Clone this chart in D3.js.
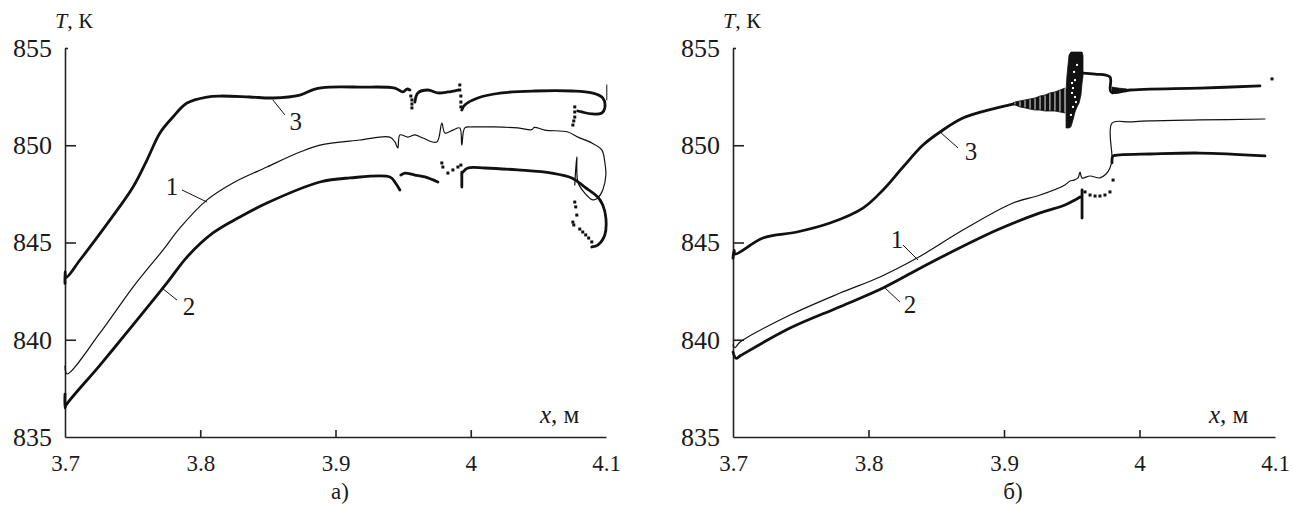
<!DOCTYPE html>
<html>
<head>
<meta charset="utf-8">
<script src="https://cdn.jsdelivr.net/npm/d3@7/dist/d3.min.js"></script>
<style>
  body { margin: 0; background: #fff; }
  svg { display: block; }
</style>
</head>
<body>
<svg id="chart" width="1294" height="515"></svg>
<script>
const xTicks = [3.7, 3.8, 3.9, 4, 4.1]
const yTicks = [835, 840, 845, 850, 855]

// panel а) -- [x, T], null = break in the curve
const a1 = [[3.7, 838.65], [3.7015, 838.24], [3.7259, 840.35], [3.7503, 842.71], [3.7724, 844.61], [3.785, 845.75],
    [3.805, 847.19], [3.8242, 848.06], [3.8493, 848.88], [3.8737, 849.65], [3.8885, 850.01], [3.918, 850.27],
    [3.9402, 850.42], [3.9439, 850.17], [3.9461, 849.86], [3.9476, 850.53], [3.9535, 850.42], [3.9587, 850.53],
    [3.9646, 850.37], [3.9749, 850.17], [3.9786, 851.14], [3.9809, 850.63], [3.9868, 850.78], [3.9919, 850.89],
    [3.9934, 850.01], [3.9956, 850.89], [4.0008, 850.94], [4.0348, 850.89], [4.045, 850.8], [4.047, 850.92],
    [4.0548, 850.78], [4.0718, 850.68], [4.0792, 850.42], [4.0895, 850.12], [4.0969, 849.76], [4.0991, 849.14],
    [4.0999, 848.47], [4.0976, 847.70], [4.0939, 847.29], [4.0902, 847.19], [4.0843, 847.54], [4.0792, 848.11],
    [4.0784, 849.40], [4.0769, 847.96]]
const a2 = [[3.7, 837.2], [3.7, 836.5], [3.7008, 836.64], [3.7259, 838.70], [3.7503, 840.76], [3.7754, 842.92],
    [3.7902, 844.25], [3.8094, 845.49], [3.8293, 846.31], [3.8493, 847.03], [3.8885, 848.11], [3.9106, 848.32],
    [3.9402, 848.37], [3.9439, 848.11], [3.9476, 847.70], null,
    [3.9483, 848.47], [3.9513, 848.57], [3.9587, 848.47], [3.9661, 848.37], [3.9757, 848.11], null,
    [3.9934, 848.62], [3.9934, 847.85], null,
    [3.9942, 848.62], [3.9979, 848.83], [4.0104, 848.83], [4.0348, 848.73], [4.0599, 848.57], [4.0747, 848.32],
    [4.0843, 847.85], [4.0939, 847.34], [4.0976, 846.93], [4.0999, 846.26], [4.0991, 845.39], [4.0939, 844.87],
    [4.0895, 844.77]]
const a2dots = [[3.9786, 849.09], [3.9794, 848.88], [3.9831, 848.57], [3.9868, 848.73], [3.9905, 848.88],
    [3.9927, 848.98], [4.0769, 847.08], [4.0776, 846.83], [4.0784, 846.41], [4.0755, 846.05], [4.0762, 845.90],
    [4.0806, 845.69], [4.0828, 845.54], [4.085, 845.39], [4.0872, 845.23], [4.0895, 845.03]]
const a3 = [[3.7, 842.9], [3.7, 843.5], [3.7008, 843.2], [3.7111, 844.10], [3.7333, 846.16], [3.7503, 847.85],
    [3.7606, 849.24], [3.7702, 850.63], [3.7798, 851.45], [3.7902, 852.17], [3.805, 852.48], [3.8146, 852.53],
    [3.8367, 852.48], [3.8537, 852.43], [3.8737, 852.58], [3.8848, 852.89], [3.8959, 852.99], [3.918, 852.99],
    [3.9439, 852.94], [3.9498, 852.74], [3.9528, 852.89], [3.955, 852.84], null,
    [3.9587, 852.22], [3.9609, 852.69], [3.9683, 852.84], [3.9757, 852.69], [3.9831, 852.74], [3.9905, 852.84], null,
    [3.9934, 851.81], [3.9956, 852.07], [4.0052, 852.43], [4.023, 852.69], [4.0474, 852.79], [4.0747, 852.79],
    [4.0895, 852.69], [4.0976, 852.43], [4.0991, 851.92], [4.0969, 851.66], [4.0895, 851.61], [4.0821, 851.71],
    [4.0791, 851.76]]
const a3dots = [[3.9557, 852.53], [3.9565, 852.33], [3.9565, 852.12], [3.9565, 851.92], [3.9919, 853.10],
    [3.9919, 852.84], [3.9927, 852.53], [3.9927, 852.22], [3.9927, 851.97], [4.0769, 851.97], [4.0769, 851.71],
    [4.0769, 851.45], [4.0762, 851.25], [4.0755, 851.04]]
const a3end = [[4.1006, 853.10], [4.1006, 852.33]]
const tagsA = [
    {t: "1", at: [3.7791, 847.44], from: [3.7865, 847.70], to: [3.8050, 847.08]},
    {t: "2", at: [3.7916, 841.27], from: [3.7717, 842.66], to: [3.7828, 842.04]},
    {t: "3", at: [3.8707, 850.78], from: [3.8537, 852.33], to: [3.8626, 851.56]}
]

// panel б)
const b1 = [[3.7, 839.73], [3.7015, 839.6], [3.7052, 839.88], [3.7421, 841.27], [3.779, 842.4], [3.8085, 843.23],
    [3.8358, 844.20], [3.8697, 845.64], [3.9066, 847.03], [3.9266, 847.44], [3.945, 847.96], [3.9487, 848.16],
    [3.9517, 848.21], [3.9546, 848.32], [3.9561, 848.62], [3.9576, 848.32], [3.9635, 848.42], [3.9708, 848.32],
    [3.9753, 848.52], [3.9782, 848.83], [3.9797, 849.24], [3.9797, 851.14], [3.993, 851.20], [4.0077, 851.25],
    [4.0446, 851.30], [4.0926, 851.35]]
const b2 = [[3.7, 839.37], [3.7022, 839.05], [3.7059, 839.2], [3.7421, 840.60], [3.779, 841.7], [3.8107, 842.66],
    [3.8454, 843.95], [3.8948, 845.64], [3.9266, 846.52], [3.945, 846.93], [3.9524, 847.19], [3.9561, 847.34], null,
    [3.9576, 847.70], [3.9576, 846.26], null,
    [3.9797, 849.1], [3.9805, 849.45], [3.9856, 849.50], [4.0077, 849.55], [4.0446, 849.60], [4.0926, 849.45]]
const b2dots = [[3.9598, 847.60], [3.9635, 847.44], [3.9672, 847.39], [3.9708, 847.39], [3.9745, 847.44],
    [3.9782, 847.60], [3.9805, 848.21]]
const b3 = [[3.7, 844.2], [3.7008, 844.6], [3.7015, 844.41], [3.7221, 845.23], [3.7472, 845.54], [3.7716, 846.0],
    [3.7959, 846.77], [3.8107, 847.70], [3.8255, 848.88], [3.8402, 850.01], [3.8528, 850.68], [3.8697, 851.40],
    [3.8948, 851.92], [3.9066, 852.12], null,
    [3.9583, 853.71], [3.9672, 853.66], [3.9782, 853.51], [3.979, 852.74], [3.993, 852.84], [4.0077, 852.89],
    [4.0446, 852.94], [4.0889, 853.05]]
// oscillation envelopes of curve 3: [x, Tmin, Tmax]
const b3band = [[3.9066, 852.07, 852.17], [3.9081, 852.07, 852.22], [3.9118, 851.97, 852.28], [3.9155, 851.92, 852.33],
    [3.9192, 851.86, 852.38], [3.9229, 851.81, 852.43], [3.9266, 851.81, 852.53], [3.9303, 851.76, 852.58],
    [3.9339, 851.76, 852.69], [3.9376, 851.76, 852.74], [3.9413, 851.71, 852.84], [3.945, 851.66, 852.94]]
const b3block = [[3.9458, 850.89, 852.84], [3.9465, 850.89, 853.6], [3.948, 850.89, 854.64], [3.9494, 850.95, 854.79],
    [3.9509, 851.3, 854.79], [3.9524, 851.71, 854.79], [3.9539, 851.97, 854.79], [3.9554, 852.17, 854.79],
    [3.9568, 852.58, 854.79], [3.9576, 853.20, 854.79], [3.9583, 853.55, 854.6]]
const b3speck = [[3.9502, 853.20], [3.9509, 852.94], [3.9524, 853.35], [3.9502, 852.69], [3.9531, 852.22],
    [3.9509, 851.97], [3.9494, 851.56], [3.9524, 852.48], [3.9539, 854.13], [3.9517, 853.77]]
const b3wedge = [[3.9797, 852.63, 852.99], [3.9841, 852.79, 852.94], [3.9908, 852.84, 852.89]]
const b3dots = [[4.0978, 853.41]]
const tagsB = [
    {t: "1", at: [3.8210, 844.72], from: [3.8255, 844.87], to: [3.8365, 844.10]},
    {t: "2", at: [3.8306, 841.38], from: [3.8122, 842.66], to: [3.8232, 841.94]},
    {t: "3", at: [3.8756, 849.24], from: [3.8528, 850.68], to: [3.8661, 849.86]}
]

const serif = "'Liberation Serif', 'Times New Roman', serif"
const svg = d3.select("#chart")
svg.append("rect").attr("width", 1294).attr("height", 515).attr("fill", "#fff")

const ink = "#111"
const yTop = 48, yBottom = 437

function drawPanel(p) {
    const g = svg.append("g")
    const x = d3.scaleLinear().domain([3.7, 4.1]).range([p.left, p.right])
    const y = d3.scaleLinear().domain([835, 855]).range([yBottom, yTop])

    // axes
    const xAxis = g.append("g")
        .attr("transform", `translate(0,${yBottom})`)
        .call(d3.axisBottom(x).tickValues(xTicks).tickFormat(d => +d.toFixed(1))
            .tickSize(-7).tickSizeOuter(0).tickPadding(18))
    xAxis.selectAll(".tick line").filter(d => d === 3.7 || d === 4.1).remove()
    xAxis.selectAll("text").style("font-family", serif).style("font-size", "23px").attr("fill", "#1a1a1a")

    const yAxis = g.append("g")
        .attr("transform", `translate(${p.left},0)`)
        .call(d3.axisLeft(y).tickValues(yTicks).tickSize(-11).tickSizeOuter(0).tickPadding(13))
    yAxis.selectAll(".tick line").filter(d => d === 835).remove()
    yAxis.selectAll(".tick line").filter(d => d === 855).attr("x2", 3)
    yAxis.selectAll("text").style("font-family", serif).style("font-size", "26px").attr("fill", "#1a1a1a")

    g.selectAll(".domain, .tick line").attr("stroke", "#222").attr("stroke-width", 1.6)

    // axis titles
    const tk = g.append("text").attr("x", p.left - 10).attr("y", 28)
        .style("font-family", serif).style("font-size", "22px").attr("fill", "#1a1a1a")
    tk.append("tspan").attr("font-style", "italic").text("T")
    tk.append("tspan").text(", К")
    const tx = g.append("text").attr("x", p.right - 66).attr("y", 423)
        .style("font-family", serif).style("font-size", "25px").attr("fill", "#1a1a1a")
    tx.append("tspan").attr("font-style", "italic").text("x")
    tx.append("tspan").text(",  м")
    g.append("text").attr("x", p.caption).attr("y", 499)
        .style("font-family", serif).style("font-size", "23px").attr("fill", "#1a1a1a")
        .attr("text-anchor", "middle").text(p.name)

    const line = d3.line().defined(d => d).curve(d3.curveCatmullRom.alpha(0.5))
        .x(d => x(d[0])).y(d => y(d[1]))
    const area = d3.area().x(d => x(d[0])).y0(d => y(d[1])).y1(d => y(d[2]))

    // hatched / filled oscillation bands
    p.bands.forEach(b => {
        g.append("path").datum(b.data).attr("d", area).attr("fill", ink)
            .attr("stroke", ink).attr("stroke-width", 0.8)
        if (b.hatch) {
            g.selectAll(null).data(b.data.slice(1)).join("line")
                .attr("x1", d => x(d[0])).attr("x2", d => x(d[0]))
                .attr("y1", d => y(d[1]) - 0.5).attr("y2", d => y(d[2]) + 0.5)
                .attr("stroke", "#fff").attr("stroke-width", 0.9)
        }
    })
    g.selectAll(null).data(p.speck).join("rect")
        .attr("x", d => x(d[0]) - 1).attr("y", d => y(d[1]) - 1)
        .attr("width", 2).attr("height", 2).attr("fill", "#fff")

    p.curves.forEach(c => {
        g.append("path").datum(c.data).attr("d", line).attr("fill", "none")
            .attr("stroke", ink).attr("stroke-width", c.w)
            .attr("stroke-linejoin", "round").attr("stroke-linecap", "round")
    })

    g.selectAll(null).data(p.dots).join("rect")
        .attr("x", d => x(d[0]) - 1.5).attr("y", d => y(d[1]) - 1.5)
        .attr("width", 3).attr("height", 3).attr("fill", ink)

    // curve numbers with leaders
    p.tags.forEach(t => {
        g.append("line")
            .attr("x1", x(t.from[0])).attr("y1", y(t.from[1]))
            .attr("x2", x(t.to[0])).attr("y2", y(t.to[1]))
            .attr("stroke", ink).attr("stroke-width", 1)
        g.append("text").attr("x", x(t.at[0])).attr("y", y(t.at[1])).attr("fill", "#1a1a1a")
            .style("font-family", serif).style("font-size", "25px")
            .attr("text-anchor", "middle").text(t.t)
    })
}

drawPanel({
    left: 65, right: 606, caption: 340, name: "а)",
    curves: [{data: a1, w: 1.2}, {data: a2, w: 2.8}, {data: a3, w: 2.8}, {data: a3end, w: 1}],
    dots: a2dots.concat(a3dots),
    bands: [], speck: [],
    tags: tagsA
})

drawPanel({
    left: 733, right: 1275, caption: 1013, name: "б)",
    curves: [{data: b1, w: 1.2}, {data: b2, w: 2.8}, {data: b3, w: 2.8}],
    dots: b2dots.concat(b3dots),
    bands: [{data: b3band, hatch: true}, {data: b3block, hatch: false}, {data: b3wedge, hatch: false}],
    speck: b3speck,
    tags: tagsB
})
</script>
</body>
</html>
